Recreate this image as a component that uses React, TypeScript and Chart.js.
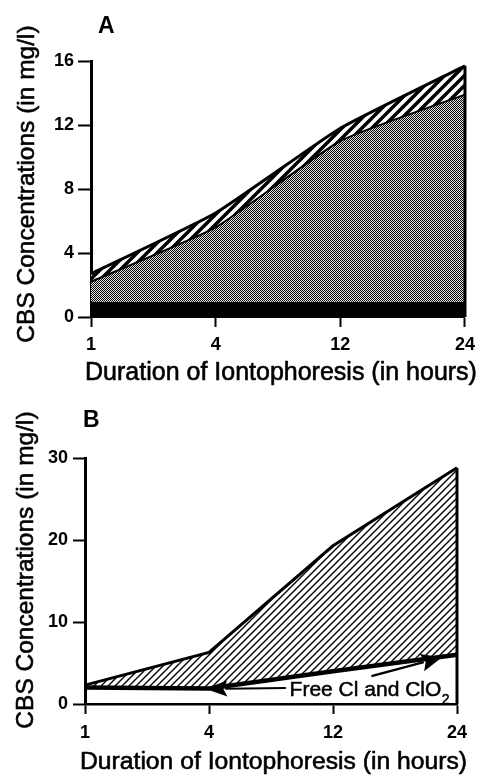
import React, { useEffect, useRef } from "react";
import { Chart, registerables } from "chart.js";

Chart.register(...registerables);

// ---------- data ----------
const xLabels = ["1", "4", "12", "24"];

// Panel A
const aBlackBand = [0.95, 0.95, 0.95, 0.95];
const aStippleTop = [2.2, 5.6, 11.0, 13.9];
const aHatchTop = [2.7, 6.5, 11.8, 15.7];
const aYTicks = [0, 4, 8, 12, 16];

// Panel B
const bFreeCl = [2.0, 1.9, 4.0, 6.0];
const bTotal = [2.3, 6.3, 19.3, 28.8];
const bYTicks = [0, 10, 20, 30];

const yTitle = "CBS Concentrations (in mg/l)";
const xTitle = "Duration of Iontophoresis (in hours)";
const freeLabel = "Free Cl and ClO";
const freeSub = "2";

// annotation anchors in data units (x = category index, y = value)
const freeLabelAt = [1.65, 1.0];
const leftArrow = { from: [1.62, 1.95], to: [0.97, 1.85] };
const rightArrow = { from: [2.31, 3.4], to: [2.88, 5.7] };

const FONT = "'Liberation Sans', Arial, Helvetica, sans-serif";

function hatchPattern(size: number, lw: number) {
  const c = document.createElement("canvas");
  c.width = size;
  c.height = size;
  const g = c.getContext("2d")!;
  g.fillStyle = "#fff";
  g.fillRect(0, 0, size, size);
  g.strokeStyle = "#000";
  g.lineWidth = lw;
  g.beginPath();
  g.moveTo(-size, 2 * size);
  g.lineTo(2 * size, -size);
  g.moveTo(-size, size);
  g.lineTo(size, -size);
  g.moveTo(0, 2 * size);
  g.lineTo(2 * size, 0);
  g.stroke();
  return g.createPattern(c, "repeat")!;
}

function stipplePattern() {
  const c = document.createElement("canvas");
  c.width = 2;
  c.height = 2;
  const g = c.getContext("2d")!;
  g.fillStyle = "#e2e2e2";
  g.fillRect(0, 0, 2, 2);
  g.fillStyle = "#000";
  g.fillRect(0, 0, 1, 1);
  g.fillRect(1, 1, 1, 1);
  return g.createPattern(c, "repeat")!;
}

const pts = (arr: number[]) => arr.map((v, i) => ({ x: i, y: v }));
const edge = (top: number) => [
  { x: xLabels.length - 1, y: 0 },
  { x: xLabels.length - 1, y: top },
];

function makeScales(yTicks: number[], o: any) {
  return {
    x: {
      type: "linear",
      min: 0,
      max: xLabels.length - 1,
      afterFit: (s: any) => {
        s.height = o.xAxisH;
      },
      ticks: {
        stepSize: 1,
        autoSkip: false,
        maxRotation: 0,
        padding: o.xPad,
        color: "#000",
        font: { family: FONT, size: 18, weight: "bold" },
        callback: (v: number) => xLabels[v] ?? "",
      },
      grid: {
        drawOnChartArea: false,
        drawTicks: true,
        tickLength: 10,
        tickWidth: 2,
        tickColor: "#000",
        color: "#000",
      },
      border: { display: true, color: "#000", width: o.xBorder },
      title: { display: false },
    },
    y: {
      type: "linear",
      min: yTicks[0],
      max: yTicks[yTicks.length - 1],
      afterFit: (s: any) => {
        s.width = o.yAxisW;
      },
      ticks: {
        stepSize: yTicks[1] - yTicks[0],
        padding: o.yPad,
        color: "#000",
        font: { family: FONT, size: 18, weight: "bold" },
      },
      grid: {
        drawOnChartArea: false,
        drawTicks: true,
        tickLength: o.yTick,
        tickWidth: 2,
        tickColor: "#000",
        color: "#000",
      },
      border: { display: true, color: "#000", width: 3 },
      title: { display: false },
    },
  };
}

function heavyText(ctx: any, text: string, x: number, y: number) {
  ctx.fillText(text, x, y);
  ctx.strokeText(text, x, y);
}

// panel letter + axis titles (real text)
function textPlugin(letter: string, o: any) {
  return {
    id: "texts" + letter,
    afterDraw(chart: any) {
      const ctx = chart.ctx;
      ctx.save();
      ctx.fillStyle = "#000";
      ctx.strokeStyle = "#000";
      ctx.lineWidth = 0.6;
      ctx.lineJoin = "round";
      ctx.font = `bold 23px ${FONT}`;
      ctx.textBaseline = "alphabetic";
      ctx.textAlign = "left";
      ctx.fillText(letter, o.letter[0], o.letter[1]);

      ctx.font = `${o.xTitleSize}px ${FONT}`;
      ctx.textAlign = "center";
      ctx.textBaseline = "middle";
      heavyText(ctx, xTitle, o.xTitle[0], o.xTitle[1]);

      ctx.font = `24.5px ${FONT}`;
      ctx.translate(o.yTitle[0], o.yTitle[1]);
      ctx.rotate(-Math.PI / 2);
      heavyText(ctx, yTitle, 0, 0);
      ctx.restore();
    },
  };
}

function drawArrow(ctx: any, x1: number, y1: number, x2: number, y2: number, lw: number, len: number, hw: number) {
  const dx = x2 - x1;
  const dy = y2 - y1;
  const d = Math.hypot(dx, dy);
  const ux = dx / d;
  const uy = dy / d;
  const bx = x2 - ux * len;
  const by = y2 - uy * len;
  ctx.beginPath();
  ctx.lineWidth = lw;
  ctx.moveTo(x1, y1);
  ctx.lineTo(bx + ux * 2, by + uy * 2);
  ctx.stroke();
  ctx.beginPath();
  ctx.moveTo(x2, y2);
  ctx.lineTo(bx - uy * hw, by + ux * hw);
  ctx.lineTo(bx + ux * 4, by + uy * 4);
  ctx.lineTo(bx + uy * hw, by - ux * hw);
  ctx.closePath();
  ctx.fill();
}

const annotationPlugin = {
  id: "freeClAnnotation",
  afterDatasetsDraw(chart: any) {
    const { ctx } = chart;
    const sx = chart.scales.x;
    const sy = chart.scales.y;
    const P = (p: number[]) => [sx.getPixelForValue(p[0]), sy.getPixelForValue(p[1])];
    ctx.save();
    ctx.fillStyle = "#000";
    ctx.strokeStyle = "#000";
    const [lx1, ly1] = P(leftArrow.from);
    const [lx2, ly2] = P(leftArrow.to);
    drawArrow(ctx, lx1, ly1, lx2, ly2, 2, 22, 8);
    const [rx1, ry1] = P(rightArrow.from);
    const [rx2, ry2] = P(rightArrow.to);
    drawArrow(ctx, rx1, ry1, rx2, ry2, 2.5, 21, 9);
    const [tx, ty] = P(freeLabelAt);
    ctx.lineWidth = 0.5;
    ctx.font = `21px ${FONT}`;
    ctx.textBaseline = "alphabetic";
    ctx.textAlign = "left";
    heavyText(ctx, freeLabel, tx, ty);
    const w = ctx.measureText(freeLabel).width;
    ctx.font = `14px ${FONT}`;
    heavyText(ctx, freeSub, tx + w + 0.5, ty + 8);
    ctx.restore();
  },
};

const baseOptions = (padding: any, scales: any) => ({
  animation: false,
  responsive: false,
  devicePixelRatio: 1,
  events: [],
  layout: { padding },
  plugins: {
    legend: { display: false },
    tooltip: { enabled: false },
    filler: { drawTime: "beforeDatasetsDraw" },
  },
  scales,
});

function buildA() {
  return {
    type: "line",
    data: {
      datasets: [
        { data: edge(aHatchTop[3]), borderColor: "#000", borderWidth: 3, fill: false, pointRadius: 0, clip: 8 },
        {
          data: pts(aHatchTop),
          borderColor: "#000",
          borderWidth: 3,
          backgroundColor: hatchPattern(10, 3.5),
          fill: 2,
          tension: 0.15,
          pointRadius: 0,
          clip: 8,
        },
        {
          data: pts(aStippleTop),
          borderColor: "#000",
          borderWidth: 2,
          backgroundColor: stipplePattern(),
          fill: 3,
          tension: 0.15,
          pointRadius: 0,
          clip: 8,
        },
        {
          data: pts(aBlackBand),
          borderColor: "#000",
          borderWidth: 0,
          backgroundColor: "#000",
          fill: "origin",
          pointRadius: 0,
          clip: 8,
        },
      ],
    },
    options: baseOptions(
      { top: 61, right: 16, left: 0, bottom: 0 },
      makeScales(aYTicks, { xAxisH: 71, yAxisW: 91, xPad: 7, yPad: 4, yTick: 13, xBorder: 2 })
    ),
    plugins: [textPlugin("A", { letter: [98, 33], xTitle: [281, 373], xTitleSize: 25, yTitle: [27, 184] })],
  };
}

function buildB() {
  return {
    type: "line",
    data: {
      datasets: [
        { data: edge(bTotal[3]), borderColor: "#000", borderWidth: 3, fill: false, pointRadius: 0, clip: 8 },
        {
          data: pts(bTotal),
          borderColor: "#000",
          borderWidth: 3,
          backgroundColor: hatchPattern(7, 1.4),
          fill: 2,
          tension: 0,
          pointRadius: 0,
          clip: 8,
        },
        {
          data: pts(bFreeCl),
          borderColor: "#000",
          borderWidth: 4.5,
          fill: false,
          tension: 0,
          pointRadius: 0,
          clip: 8,
        },
      ],
    },
    options: baseOptions(
      { top: 70, right: 25, left: 0, bottom: 0 },
      makeScales(bYTicks, { xAxisH: 72, yAxisW: 85, xPad: 8, yPad: 5, yTick: 12, xBorder: 2.5 })
    ),
    plugins: [
      textPlugin("B", { letter: [83, 39], xTitle: [273.5, 374], xTitleSize: 24.7, yTitle: [26, 182] }),
      annotationPlugin,
    ],
  };
}

function Panel({ build, top }: { build: () => any; top: number }) {
  const ref = useRef<HTMLCanvasElement | null>(null);
  useEffect(() => {
    const chart = new Chart(ref.current as HTMLCanvasElement, build());
    return () => chart.destroy();
  }, []);
  return (
    <canvas
      ref={ref}
      width={482}
      height={388}
      style={{ position: "absolute", left: 0, top, width: 482, height: 388, display: "block" }}
    />
  );
}

export default function App() {
  return (
    <div style={{ position: "absolute", left: 0, top: 0, width: 482, height: 776, background: "#fff" }}>
      <Panel build={buildA} top={0} />
      <Panel build={buildB} top={388} />
    </div>
  );
}
